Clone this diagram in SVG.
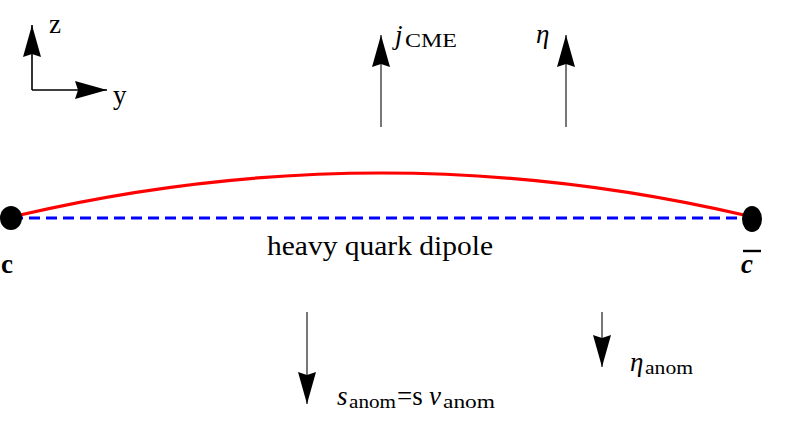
<svg xmlns="http://www.w3.org/2000/svg" width="786" height="424" viewBox="0 0 786 424">
<style>
.ax{stroke:#000;stroke-width:1.6;fill:none}
.ar{stroke:#555;stroke-width:1.6;fill:none}
text{font-family:'Liberation Serif','Times New Roman',serif;fill:#000;font-size:27px}
.s{font-size:19px}
.i{font-style:italic}
</style>
<defs>
<marker id="ah" markerUnits="userSpaceOnUse" markerWidth="34" markerHeight="18" refX="32" refY="9" orient="auto" viewBox="0 0 34 18">
<path d="M0,0 L32,9 L0,18 L3,9 Z" fill="#000"/>
</marker>
</defs>
<rect width="786" height="424" fill="#fff"/>
<g id="axes">
<path class="ax" d="M32,90 L32,25" marker-end="url(#ah)"/>
<path class="ax" d="M32,90 L107,90" marker-end="url(#ah)"/>
<text x="49" y="33" font-size="28">z</text>
<text x="113" y="104" font-size="28">y</text>
</g>
<g id="connectors">
<path class="ar" d="M381,127 L381,35" marker-end="url(#ah)"/>
<path class="ar" d="M566,127 L566,35" marker-end="url(#ah)"/>
<path class="ar" d="M307,312 L307,404" marker-end="url(#ah)"/>
<path class="ar" d="M602,312 L602,367" marker-end="url(#ah)"/>
</g>
<g id="dipole">
<line x1="12" y1="218" x2="752" y2="218" stroke="#0000ff" stroke-width="3" stroke-dasharray="11,6"/>
<path d="M20,215 Q381,131 744,215" stroke="#ff0000" stroke-width="3.2" fill="none"/>
</g>
<g id="quark-c">
<ellipse cx="11" cy="218" rx="11" ry="12" fill="#000"/>
<text x="1" y="273" font-weight="bold" font-size="33">c</text>
</g>
<g id="quark-cbar">
<ellipse cx="752" cy="219" rx="10" ry="13" fill="#000"/>
<text x="741" y="273" font-weight="bold" font-style="italic" font-size="33">c</text>
<line x1="743" y1="251" x2="761" y2="251" stroke="#000" stroke-width="2.4"/>
</g>
<g id="label-dipole">
<text x="267" y="255" textLength="226" lengthAdjust="spacingAndGlyphs">heavy quark dipole</text>
</g>
<g id="label-jcme">
<text class="i" x="395" y="44">j</text>
<text class="s" x="405" y="47" textLength="52" lengthAdjust="spacingAndGlyphs">CME</text>
</g>
<g id="label-eta">
<text class="i" x="536" y="43">η</text>
</g>
<g id="label-sanom">
<text class="i" x="337" y="405">s</text>
<text class="s" x="349" y="408" textLength="47" lengthAdjust="spacingAndGlyphs">anom</text>
<text x="397" y="405">=s</text>
<text class="i" x="429" y="405">v</text>
<text class="s" x="443" y="408" textLength="52" lengthAdjust="spacingAndGlyphs">anom</text>
</g>
<g id="label-etaanom">
<text class="i" x="630" y="371">η</text>
<text class="s" x="645" y="374" textLength="48" lengthAdjust="spacingAndGlyphs">anom</text>
</g>
</svg>
